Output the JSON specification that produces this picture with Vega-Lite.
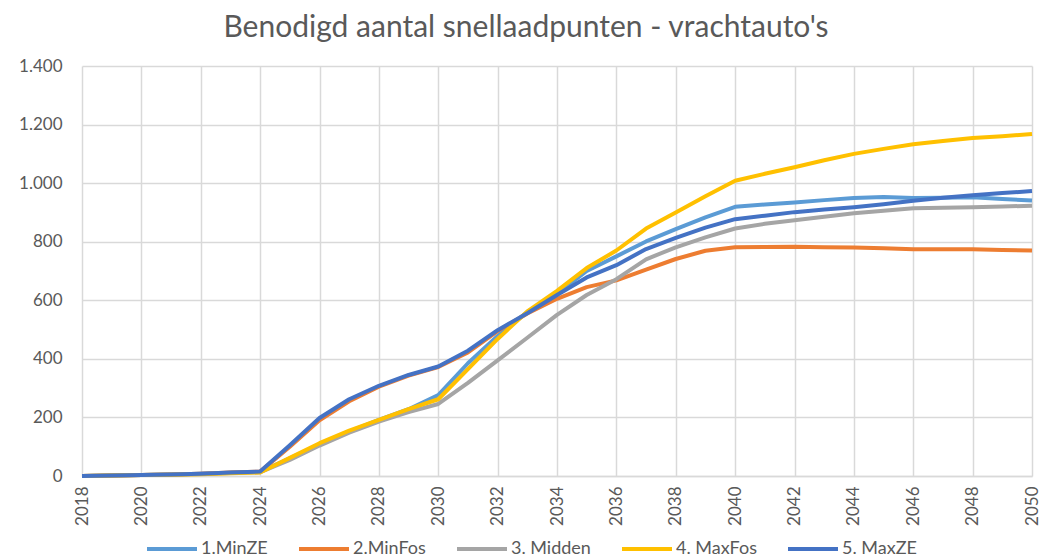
{
  "$schema": "https://vega.github.io/schema/vega-lite/v6.json",
  "width": 950,
  "height": 410,
  "autosize": "none",
  "padding": {"left": 82, "top": 66, "right": 10, "bottom": 82},
  "background": "white",
  "config": {
    "locale": {"number": {"decimal": ",", "thousands": ".", "grouping": [3], "currency": ["€", ""]}},
    "font": "Lato",
    "view": {"stroke": null}
  },
  "title": {
    "text": "Benodigd aantal snellaadpunten - vrachtauto's",
    "font": "Lato",
    "fontSize": 30,
    "fontWeight": "normal",
    "color": "#595959",
    "dx": -31,
    "offset": 14
  },
  "data": {
    "values": [
      {"year": 2018, "series": "1.MinZE", "value": 0}, {"year": 2019, "series": "1.MinZE", "value": 2}, {"year": 2020, "series": "1.MinZE", "value": 3}, {"year": 2021, "series": "1.MinZE", "value": 5}, {"year": 2022, "series": "1.MinZE", "value": 8}, {"year": 2023, "series": "1.MinZE", "value": 11}, {"year": 2024, "series": "1.MinZE", "value": 14}, {"year": 2025, "series": "1.MinZE", "value": 60}, {"year": 2026, "series": "1.MinZE", "value": 108}, {"year": 2027, "series": "1.MinZE", "value": 152}, {"year": 2028, "series": "1.MinZE", "value": 192}, {"year": 2029, "series": "1.MinZE", "value": 228}, {"year": 2030, "series": "1.MinZE", "value": 276}, {"year": 2031, "series": "1.MinZE", "value": 385}, {"year": 2032, "series": "1.MinZE", "value": 478}, {"year": 2033, "series": "1.MinZE", "value": 560}, {"year": 2034, "series": "1.MinZE", "value": 622}, {"year": 2035, "series": "1.MinZE", "value": 700}, {"year": 2036, "series": "1.MinZE", "value": 750}, {"year": 2037, "series": "1.MinZE", "value": 801}, {"year": 2038, "series": "1.MinZE", "value": 843}, {"year": 2039, "series": "1.MinZE", "value": 883}, {"year": 2040, "series": "1.MinZE", "value": 919}, {"year": 2041, "series": "1.MinZE", "value": 927}, {"year": 2042, "series": "1.MinZE", "value": 934}, {"year": 2043, "series": "1.MinZE", "value": 942}, {"year": 2044, "series": "1.MinZE", "value": 949}, {"year": 2045, "series": "1.MinZE", "value": 953}, {"year": 2046, "series": "1.MinZE", "value": 949}, {"year": 2047, "series": "1.MinZE", "value": 950}, {"year": 2048, "series": "1.MinZE", "value": 952}, {"year": 2049, "series": "1.MinZE", "value": 946}, {"year": 2050, "series": "1.MinZE", "value": 941},
      {"year": 2018, "series": "2.MinFos", "value": 0}, {"year": 2019, "series": "2.MinFos", "value": 2}, {"year": 2020, "series": "2.MinFos", "value": 3}, {"year": 2021, "series": "2.MinFos", "value": 5}, {"year": 2022, "series": "2.MinFos", "value": 8}, {"year": 2023, "series": "2.MinFos", "value": 12}, {"year": 2024, "series": "2.MinFos", "value": 15}, {"year": 2025, "series": "2.MinFos", "value": 100}, {"year": 2026, "series": "2.MinFos", "value": 190}, {"year": 2027, "series": "2.MinFos", "value": 255}, {"year": 2028, "series": "2.MinFos", "value": 305}, {"year": 2029, "series": "2.MinFos", "value": 343}, {"year": 2030, "series": "2.MinFos", "value": 372}, {"year": 2031, "series": "2.MinFos", "value": 422}, {"year": 2032, "series": "2.MinFos", "value": 495}, {"year": 2033, "series": "2.MinFos", "value": 555}, {"year": 2034, "series": "2.MinFos", "value": 605}, {"year": 2035, "series": "2.MinFos", "value": 645}, {"year": 2036, "series": "2.MinFos", "value": 668}, {"year": 2037, "series": "2.MinFos", "value": 705}, {"year": 2038, "series": "2.MinFos", "value": 741}, {"year": 2039, "series": "2.MinFos", "value": 769}, {"year": 2040, "series": "2.MinFos", "value": 781}, {"year": 2041, "series": "2.MinFos", "value": 782}, {"year": 2042, "series": "2.MinFos", "value": 783}, {"year": 2043, "series": "2.MinFos", "value": 781}, {"year": 2044, "series": "2.MinFos", "value": 780}, {"year": 2045, "series": "2.MinFos", "value": 778}, {"year": 2046, "series": "2.MinFos", "value": 774}, {"year": 2047, "series": "2.MinFos", "value": 774}, {"year": 2048, "series": "2.MinFos", "value": 774}, {"year": 2049, "series": "2.MinFos", "value": 772}, {"year": 2050, "series": "2.MinFos", "value": 770},
      {"year": 2018, "series": "3. Midden", "value": 0}, {"year": 2019, "series": "3. Midden", "value": 2}, {"year": 2020, "series": "3. Midden", "value": 3}, {"year": 2021, "series": "3. Midden", "value": 5}, {"year": 2022, "series": "3. Midden", "value": 7}, {"year": 2023, "series": "3. Midden", "value": 10}, {"year": 2024, "series": "3. Midden", "value": 13}, {"year": 2025, "series": "3. Midden", "value": 55}, {"year": 2026, "series": "3. Midden", "value": 104}, {"year": 2027, "series": "3. Midden", "value": 148}, {"year": 2028, "series": "3. Midden", "value": 186}, {"year": 2029, "series": "3. Midden", "value": 218}, {"year": 2030, "series": "3. Midden", "value": 246}, {"year": 2031, "series": "3. Midden", "value": 318}, {"year": 2032, "series": "3. Midden", "value": 395}, {"year": 2033, "series": "3. Midden", "value": 472}, {"year": 2034, "series": "3. Midden", "value": 550}, {"year": 2035, "series": "3. Midden", "value": 618}, {"year": 2036, "series": "3. Midden", "value": 672}, {"year": 2037, "series": "3. Midden", "value": 740}, {"year": 2038, "series": "3. Midden", "value": 781}, {"year": 2039, "series": "3. Midden", "value": 815}, {"year": 2040, "series": "3. Midden", "value": 845}, {"year": 2041, "series": "3. Midden", "value": 861}, {"year": 2042, "series": "3. Midden", "value": 873}, {"year": 2043, "series": "3. Midden", "value": 885}, {"year": 2044, "series": "3. Midden", "value": 897}, {"year": 2045, "series": "3. Midden", "value": 906}, {"year": 2046, "series": "3. Midden", "value": 914}, {"year": 2047, "series": "3. Midden", "value": 916}, {"year": 2048, "series": "3. Midden", "value": 918}, {"year": 2049, "series": "3. Midden", "value": 920}, {"year": 2050, "series": "3. Midden", "value": 923},
      {"year": 2018, "series": "4. MaxFos", "value": 0}, {"year": 2019, "series": "4. MaxFos", "value": 2}, {"year": 2020, "series": "4. MaxFos", "value": 3}, {"year": 2021, "series": "4. MaxFos", "value": 4}, {"year": 2022, "series": "4. MaxFos", "value": 6}, {"year": 2023, "series": "4. MaxFos", "value": 9}, {"year": 2024, "series": "4. MaxFos", "value": 12}, {"year": 2025, "series": "4. MaxFos", "value": 62}, {"year": 2026, "series": "4. MaxFos", "value": 112}, {"year": 2027, "series": "4. MaxFos", "value": 155}, {"year": 2028, "series": "4. MaxFos", "value": 192}, {"year": 2029, "series": "4. MaxFos", "value": 228}, {"year": 2030, "series": "4. MaxFos", "value": 262}, {"year": 2031, "series": "4. MaxFos", "value": 365}, {"year": 2032, "series": "4. MaxFos", "value": 468}, {"year": 2033, "series": "4. MaxFos", "value": 562}, {"year": 2034, "series": "4. MaxFos", "value": 632}, {"year": 2035, "series": "4. MaxFos", "value": 710}, {"year": 2036, "series": "4. MaxFos", "value": 770}, {"year": 2037, "series": "4. MaxFos", "value": 845}, {"year": 2038, "series": "4. MaxFos", "value": 900}, {"year": 2039, "series": "4. MaxFos", "value": 955}, {"year": 2040, "series": "4. MaxFos", "value": 1008}, {"year": 2041, "series": "4. MaxFos", "value": 1032}, {"year": 2042, "series": "4. MaxFos", "value": 1054}, {"year": 2043, "series": "4. MaxFos", "value": 1078}, {"year": 2044, "series": "4. MaxFos", "value": 1100}, {"year": 2045, "series": "4. MaxFos", "value": 1117}, {"year": 2046, "series": "4. MaxFos", "value": 1133}, {"year": 2047, "series": "4. MaxFos", "value": 1144}, {"year": 2048, "series": "4. MaxFos", "value": 1154}, {"year": 2049, "series": "4. MaxFos", "value": 1160}, {"year": 2050, "series": "4. MaxFos", "value": 1168},
      {"year": 2018, "series": "5. MaxZE", "value": 0}, {"year": 2019, "series": "5. MaxZE", "value": 2}, {"year": 2020, "series": "5. MaxZE", "value": 3}, {"year": 2021, "series": "5. MaxZE", "value": 5}, {"year": 2022, "series": "5. MaxZE", "value": 8}, {"year": 2023, "series": "5. MaxZE", "value": 12}, {"year": 2024, "series": "5. MaxZE", "value": 15}, {"year": 2025, "series": "5. MaxZE", "value": 105}, {"year": 2026, "series": "5. MaxZE", "value": 198}, {"year": 2027, "series": "5. MaxZE", "value": 262}, {"year": 2028, "series": "5. MaxZE", "value": 308}, {"year": 2029, "series": "5. MaxZE", "value": 345}, {"year": 2030, "series": "5. MaxZE", "value": 374}, {"year": 2031, "series": "5. MaxZE", "value": 428}, {"year": 2032, "series": "5. MaxZE", "value": 498}, {"year": 2033, "series": "5. MaxZE", "value": 556}, {"year": 2034, "series": "5. MaxZE", "value": 618}, {"year": 2035, "series": "5. MaxZE", "value": 678}, {"year": 2036, "series": "5. MaxZE", "value": 720}, {"year": 2037, "series": "5. MaxZE", "value": 775}, {"year": 2038, "series": "5. MaxZE", "value": 813}, {"year": 2039, "series": "5. MaxZE", "value": 848}, {"year": 2040, "series": "5. MaxZE", "value": 877}, {"year": 2041, "series": "5. MaxZE", "value": 889}, {"year": 2042, "series": "5. MaxZE", "value": 901}, {"year": 2043, "series": "5. MaxZE", "value": 910}, {"year": 2044, "series": "5. MaxZE", "value": 918}, {"year": 2045, "series": "5. MaxZE", "value": 928}, {"year": 2046, "series": "5. MaxZE", "value": 940}, {"year": 2047, "series": "5. MaxZE", "value": 950}, {"year": 2048, "series": "5. MaxZE", "value": 959}, {"year": 2049, "series": "5. MaxZE", "value": 966}, {"year": 2050, "series": "5. MaxZE", "value": 973}
    ]
  },
  "mark": {"type": "line", "strokeWidth": 4, "strokeJoin": "round", "strokeCap": "butt"},
  "encoding": {
    "x": {
      "field": "year",
      "type": "quantitative",
      "scale": {"domain": [2018, 2050], "nice": false, "zero": false},
      "axis": {
        "title": null,
        "values": [2018, 2020, 2022, 2024, 2026, 2028, 2030, 2032, 2034, 2036, 2038, 2040, 2042, 2044, 2046, 2048, 2050],
        "format": "d",
        "labelAngle": 270,
        "labelAlign": "right",
        "labelBaseline": "middle",
        "labelFontSize": 17,
        "labelColor": "#595959",
        "labelPadding": 10,
        "labelFont": "Lato",
        "ticks": false,
        "grid": true,
        "gridColor": "#d9d9d9",
        "gridWidth": 1.5,
        "domainColor": "#d9d9d9",
        "domainWidth": 1.5,
        "labelFlush": false,
        "labelOverlap": false
      }
    },
    "y": {
      "field": "value",
      "type": "quantitative",
      "scale": {"domain": [0, 1400], "nice": false},
      "axis": {
        "title": null,
        "values": [0, 200, 400, 600, 800, 1000, 1200, 1400],
        "format": ",d",
        "labelFontSize": 17,
        "labelColor": "#595959",
        "labelPadding": 20,
        "labelFont": "Lato",
        "ticks": false,
        "domain": false,
        "grid": true,
        "gridColor": "#d9d9d9",
        "gridWidth": 1.5
      }
    },
    "color": {
      "field": "series",
      "type": "nominal",
      "scale": {
        "domain": ["1.MinZE", "2.MinFos", "3. Midden", "4. MaxFos", "5. MaxZE"],
        "range": ["#5B9BD5", "#ED7D31", "#A5A5A5", "#FFC000", "#4472C4"]
      },
      "legend": {
        "title": null,
        "orient": "none",
        "direction": "horizontal",
        "legendX": 63,
        "legendY": 456,
        "symbolType": "stroke",
        "symbolSize": 2500,
        "symbolStrokeWidth": 4,
        "labelFontSize": 18,
        "labelColor": "#595959",
        "labelFont": "Lato",
        "labelOffset": 2,
        "columnPadding": 23
      }
    }
  }
}
